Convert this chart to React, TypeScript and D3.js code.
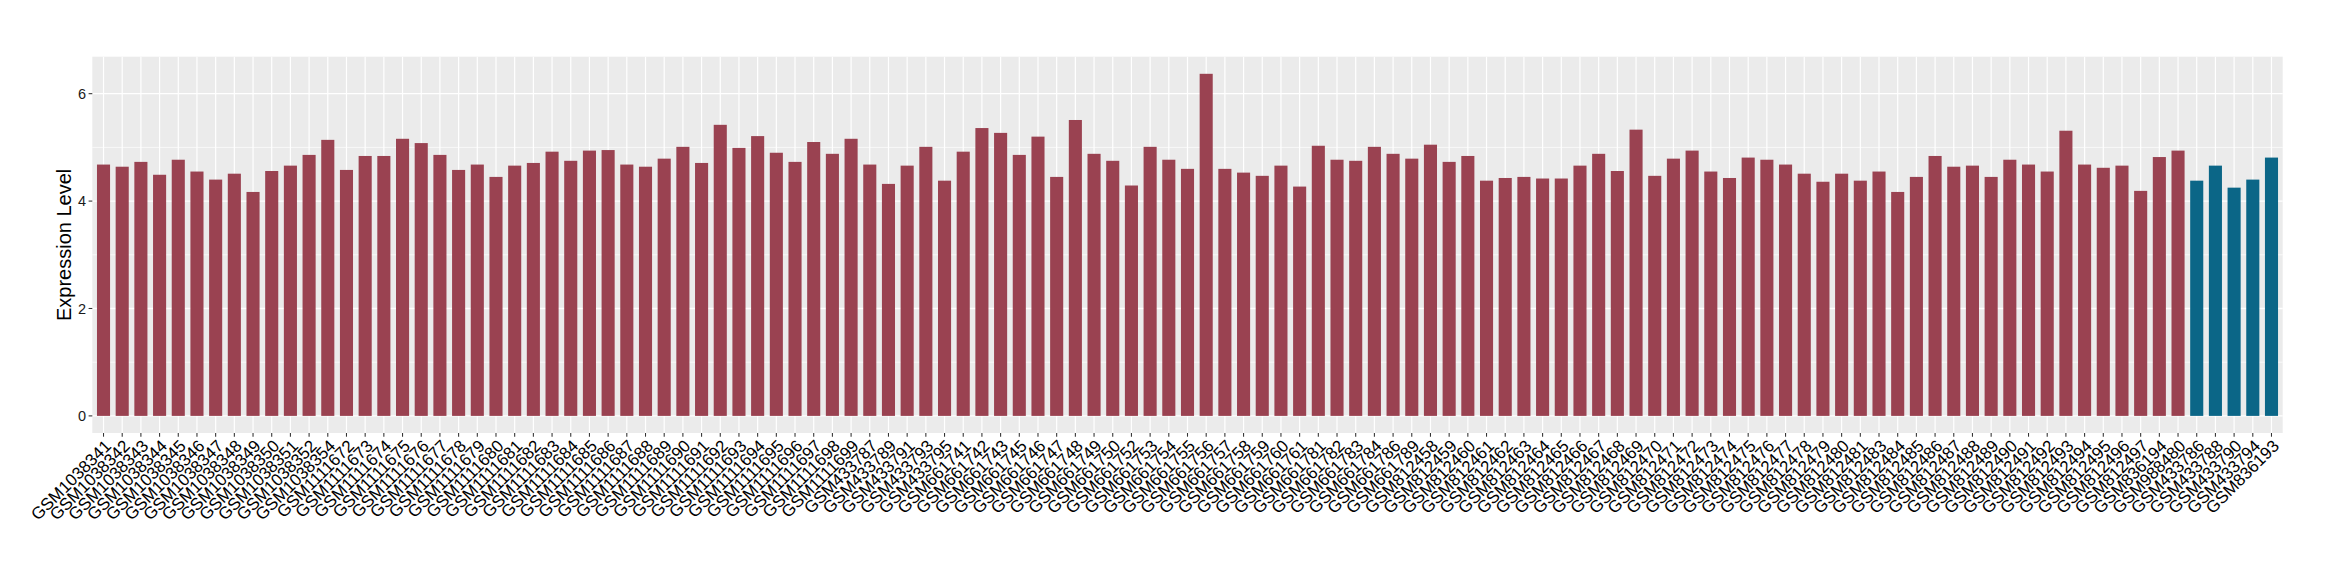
import React from "react";
import * as d3 from "d3";

const sampleIds: string[] = [
  "GSM1038341", "GSM1038342", "GSM1038343", "GSM1038344", "GSM1038345", "GSM1038346", "GSM1038347",
  "GSM1038348", "GSM1038349", "GSM1038350", "GSM1038351", "GSM1038352", "GSM1038354",
  "GSM1111672", "GSM1111673", "GSM1111674", "GSM1111675", "GSM1111676", "GSM1111677", "GSM1111678",
  "GSM1111679", "GSM1111680", "GSM1111681", "GSM1111682", "GSM1111683", "GSM1111684", "GSM1111685",
  "GSM1111686", "GSM1111687", "GSM1111688", "GSM1111689", "GSM1111690", "GSM1111691", "GSM1111692",
  "GSM1111693", "GSM1111694", "GSM1111695", "GSM1111696", "GSM1111697", "GSM1111698", "GSM1111699",
  "GSM433787", "GSM433789", "GSM433791", "GSM433793", "GSM433795",
  "GSM661741", "GSM661742", "GSM661743", "GSM661745", "GSM661746", "GSM661747", "GSM661748",
  "GSM661749", "GSM661750", "GSM661752", "GSM661753", "GSM661754", "GSM661755", "GSM661756",
  "GSM661757", "GSM661758", "GSM661759", "GSM661760", "GSM661761", "GSM661781", "GSM661782",
  "GSM661783", "GSM661784", "GSM661786", "GSM661789",
  "GSM812458", "GSM812459", "GSM812460", "GSM812461", "GSM812462", "GSM812463", "GSM812464",
  "GSM812465", "GSM812466", "GSM812467", "GSM812468", "GSM812469", "GSM812470", "GSM812471",
  "GSM812472", "GSM812473", "GSM812474", "GSM812475", "GSM812476", "GSM812477", "GSM812478",
  "GSM812479", "GSM812480", "GSM812481", "GSM812483", "GSM812484", "GSM812485", "GSM812486",
  "GSM812487", "GSM812488", "GSM812489", "GSM812490", "GSM812491", "GSM812492", "GSM812493",
  "GSM812494", "GSM812495", "GSM812496", "GSM812497", "GSM836194", "GSM988480",
  "GSM433786", "GSM433788", "GSM433790", "GSM433794", "GSM836193",
];

const expression: number[] = [
  4.68, 4.64, 4.73, 4.49, 4.77, 4.55, 4.40, 4.51, 4.17, 4.56, 4.66, 4.86, 5.14,
  4.58, 4.84, 4.84, 5.16, 5.08, 4.86, 4.58, 4.68, 4.45, 4.66, 4.71, 4.92, 4.75, 4.94,
  4.95, 4.68, 4.64, 4.79, 5.01, 4.71, 5.42, 4.99, 5.21, 4.90, 4.73, 5.10, 4.88, 5.16,
  4.68, 4.32, 4.66, 5.01, 4.38,
  4.92, 5.36, 5.27, 4.86, 5.20, 4.45, 5.51, 4.88, 4.75, 4.29, 5.01, 4.77, 4.60, 6.37,
  4.60, 4.53, 4.47, 4.66, 4.27, 5.03, 4.77, 4.75, 5.01, 4.88, 4.79,
  5.05, 4.73, 4.84, 4.38, 4.43, 4.45, 4.42, 4.42, 4.66, 4.88, 4.56, 5.33, 4.47, 4.79,
  4.94, 4.55, 4.43, 4.81, 4.77, 4.68, 4.51, 4.36, 4.51, 4.38, 4.55, 4.17, 4.45, 4.84,
  4.64, 4.66, 4.45, 4.77, 4.68, 4.55, 5.31, 4.68, 4.62, 4.66, 4.19, 4.82, 4.94,
  4.38, 4.66, 4.25, 4.40, 4.81,
];

// group of each sample: the last five belong to the second group
const groupNames: string[] = ["group1", "group2"];
const groupCounts: number[] = [112, 5];
const groupColors: string[] = ["#9A4251", "#0B6687"];

const yTicks: number[] = [0, 2, 4, 6];
const yMinorTicks: number[] = [1, 3, 5];

const W = 2340;
const H = 580;
const panel = { left: 92.3, right: 2282.7, top: 56.7, bottom: 433 };

export default function App() {
  const groups: string[] = [];
  groupCounts.forEach((c, gi) => {
    for (let i = 0; i < c; i++) groups.push(groupNames[gi]);
  });
  const data = sampleIds.map((id, i) => ({ id, value: expression[i], group: groups[i] }));

  const color = d3.scaleOrdinal<string, string>().domain(groupNames).range(groupColors);

  const x = d3
    .scaleBand<string>()
    .domain(sampleIds)
    .range([panel.left, panel.right])
    .paddingInner(0.3)
    .paddingOuter(0.25);

  const maxV = d3.max(expression) as number;
  const pad = maxV * 0.05;
  const y = d3.scaleLinear().domain([-pad, maxV + pad]).range([panel.bottom, panel.top]);

  const font = "'Liberation Sans', Arial, Helvetica, sans-serif";

  return (
    <div style={{ position: "absolute", left: 0, top: 0 }}>
      <svg width={W} height={H} style={{ display: "block", background: "#fff" }}>
        <rect
          x={panel.left}
          y={panel.top}
          width={panel.right - panel.left}
          height={panel.bottom - panel.top}
          fill="#EBEBEB"
        />
        {yMinorTicks.map((t) => (
          <line key={"mi" + t} x1={panel.left} x2={panel.right} y1={y(t)} y2={y(t)} stroke="#fff" strokeWidth={0.7} />
        ))}
        {yTicks.map((t) => (
          <line key={"ma" + t} x1={panel.left} x2={panel.right} y1={y(t)} y2={y(t)} stroke="#fff" strokeWidth={1.3} />
        ))}
        {sampleIds.map((id) => {
          const cx = (x(id) as number) + x.bandwidth() / 2;
          return <line key={"vg" + id} x1={cx} x2={cx} y1={panel.top} y2={panel.bottom} stroke="#fff" strokeWidth={1.2} />;
        })}
        {data.map((d) => (
          <rect
            key={"b" + d.id}
            x={x(d.id) as number}
            width={x.bandwidth()}
            y={y(d.value)}
            height={y(0) - y(d.value)}
            fill={color(d.group)}
          />
        ))}
        {yTicks.map((t) => (
          <g key={"yt" + t}>
            <line x1={panel.left - 3.7} x2={panel.left} y1={y(t)} y2={y(t)} stroke="#333" strokeWidth={1.07} />
            <text
              x={panel.left - 6.2}
              y={y(t)}
              dy="0.36em"
              textAnchor="end"
              fontFamily={font}
              fontSize={14.5}
              fill="#1a1a1a"
            >
              {t}
            </text>
          </g>
        ))}
        {sampleIds.map((id) => {
          const cx = (x(id) as number) + x.bandwidth() / 2;
          return (
            <g key={"xt" + id}>
              <line x1={cx} x2={cx} y1={panel.bottom} y2={panel.bottom + 3.7} stroke="#333" strokeWidth={1.07} />
              <text
                transform={`translate(${cx},${panel.bottom + 5.5}) rotate(-45)`}
                dy="0.72em"
                textAnchor="end"
                fontFamily={font}
                fontSize={17}
                fill="#000"
              >
                {id}
              </text>
            </g>
          );
        })}
        <text
          transform={`translate(71,${(panel.top + panel.bottom) / 2}) rotate(-90)`}
          textAnchor="middle"
          fontFamily={font}
          fontSize={20}
          fill="#000"
        >
          Expression Level
        </text>
      </svg>
    </div>
  );
}
